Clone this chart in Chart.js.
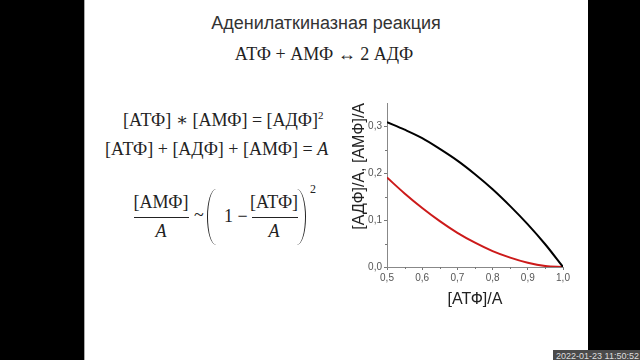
<!DOCTYPE html>
<html><head><meta charset="utf-8">
<script src="https://cdn.jsdelivr.net/npm/chart.js@4"></script>
<style>
html,body{margin:0;padding:0;width:640px;height:360px;overflow:hidden;background:#000;}
#slide{position:absolute;left:84px;top:0;width:504px;height:360px;background:#fff;border-left:1px solid #aaa;box-sizing:border-box;}
.t{position:absolute;white-space:nowrap;color:#222;}
.sans{font-family:"Liberation Sans",Arial,sans-serif;}
.serif{font-family:"Liberation Serif","DejaVu Serif",serif;}
.c{transform:translateX(-50%);}
.pl{position:absolute;width:9px;height:56px;border-left:1.6px solid #222;border-radius:9px 0 0 9px / 28px 0 0 28px;box-sizing:border-box;}
.pr{position:absolute;width:9px;height:56px;border-right:1.6px solid #222;border-radius:0 9px 9px 0 / 0 28px 28px 0;box-sizing:border-box;}
#wrap{position:absolute;left:300px;top:80px;width:280px;height:240px;}
#stamp{position:absolute;left:553px;top:350px;background:#4a4a4a;color:#ddd;font:9px "Liberation Sans",Arial,sans-serif;padding:1px 3px;white-space:nowrap;}
</style></head>
<body>
<div id="slide"></div>
<div class="t sans c" style="left:326px;top:13px;font-size:18px;color:#333;">Аденилаткиназная реакция</div>
<div class="t serif c" style="left:324px;top:44px;font-size:18px;">АТФ + АМФ ↔ 2 АДФ</div>
<div class="t serif" style="left:123px;top:109px;font-size:18px;">[АТФ] ∗ [АМФ] = [АДФ]<sup style="font-size:11px;">2</sup></div>
<div class="t serif" style="left:105px;top:139px;font-size:18px;">[АТФ] + [АДФ] + [АМФ] = <i>A</i></div>
<!-- fraction formula -->
<div class="t serif c" style="left:161px;top:192px;font-size:18px;">[АМФ]</div>
<div style="position:absolute;left:134px;top:217px;width:55px;height:1px;background:#222;"></div>
<div class="t serif c" style="left:161px;top:221px;font-size:18px;"><i>A</i></div>
<div class="t serif" style="left:194px;top:205px;font-size:18px;">~</div>
<div class="pl" style="left:207px;top:189px;"></div>
<div class="t serif" style="left:224px;top:206px;font-size:18px;">1 −</div>
<div class="t serif c" style="left:274px;top:192px;font-size:18px;">[АТФ]</div>
<div style="position:absolute;left:252px;top:217px;width:46px;height:1px;background:#222;"></div>
<div class="t serif c" style="left:274px;top:221px;font-size:18px;"><i>A</i></div>
<div class="pr" style="left:297px;top:189px;"></div>
<div class="t serif" style="left:310px;top:182px;font-size:12px;">2</div>
<div id="wrap"><canvas id="c" width="280" height="240"></canvas></div>
<div id="stamp">2022-01-23 11:50:52</div>
<script>
const atf = [0.50, 0.55, 0.60, 0.65, 0.70, 0.75, 0.80, 0.85, 0.90, 0.95, 1.00];
const adf = [0.309, 0.293, 0.275, 0.252, 0.227, 0.198, 0.166, 0.130, 0.091, 0.048, 0.000];
const amf = [0.191, 0.157, 0.126, 0.098, 0.073, 0.052, 0.034, 0.020, 0.009, 0.002, 0.000];
const xTitle = '[АТФ]/А';
const yTitle = '[АДФ]/А, [АМФ]/А';

const fmt = v => Number(v).toFixed(1).replace('.', ',');
const minorTicks = {
  id: 'minorTicks',
  afterDraw(chart) {
    const {ctx, chartArea: a, scales: {x, y}} = chart;
    ctx.save();
    ctx.strokeStyle = '#777';
    ctx.lineWidth = 1;
    ctx.beginPath();
    for (let i = 0; i < 5; i++) {
      const px = Math.round(x.getPixelForValue(0.55 + i * 0.1)) + 0.5;
      ctx.moveTo(px, a.bottom); ctx.lineTo(px, a.bottom + 2);
    }
    for (let i = 0; i < 3; i++) {
      const py = Math.round(y.getPixelForValue(0.05 + i * 0.1)) + 0.5;
      ctx.moveTo(a.left, py); ctx.lineTo(a.left - 2, py);
    }
    ctx.stroke();
    ctx.restore();
  }
};

new Chart(document.getElementById('c'), {
  type: 'line',
  data: {
    datasets: [
      {label: 'АДФ', data: atf.map((v, i) => ({x: v, y: adf[i]})), borderColor: '#000', borderWidth: 2, pointRadius: 0, cubicInterpolationMode: 'monotone'},
      {label: 'АМФ', data: atf.map((v, i) => ({x: v, y: amf[i]})), borderColor: '#cc1a1a', borderWidth: 2, pointRadius: 0, cubicInterpolationMode: 'monotone'}
    ]
  },
  options: {
    responsive: false,
    animation: false,
    layout: {padding: {top: 23, right: 17, left: 0, bottom: 0}},
    plugins: {legend: {display: false}, tooltip: {enabled: false}},
    scales: {
      x: {
        type: 'linear', min: 0.5, max: 1.0,
        ticks: {stepSize: 0.1, callback: fmt, color: '#555', font: {family: '"Liberation Sans", Arial', size: 10}, padding: 2, maxRotation: 0},
        grid: {drawOnChartArea: false, tickLength: 3, tickColor: '#777'},
        border: {color: '#888', width: 1},
        title: {display: true, text: xTitle, color: '#222', font: {family: '"Liberation Sans", Arial', size: 16}, padding: {top: 0, bottom: 11}},
        afterFit: s => { s.height = 53; }
      },
      y: {
        min: 0, max: 0.35,
        ticks: {stepSize: 0.1, includeBounds: false, callback: fmt, color: '#555', font: {family: '"Liberation Sans", Arial', size: 10}, padding: 2},
        grid: {drawOnChartArea: false, tickLength: 3, tickColor: '#777'},
        border: {color: '#888', width: 1},
        title: {display: true, text: yTitle, align: 'end', color: '#222', font: {family: '"Liberation Sans", Arial', size: 16}, padding: {top: 50, bottom: 0}},
        afterFit: s => { s.width = 87; }
      }
    }
  },
  plugins: [minorTicks]
});
</script>
</body></html>
